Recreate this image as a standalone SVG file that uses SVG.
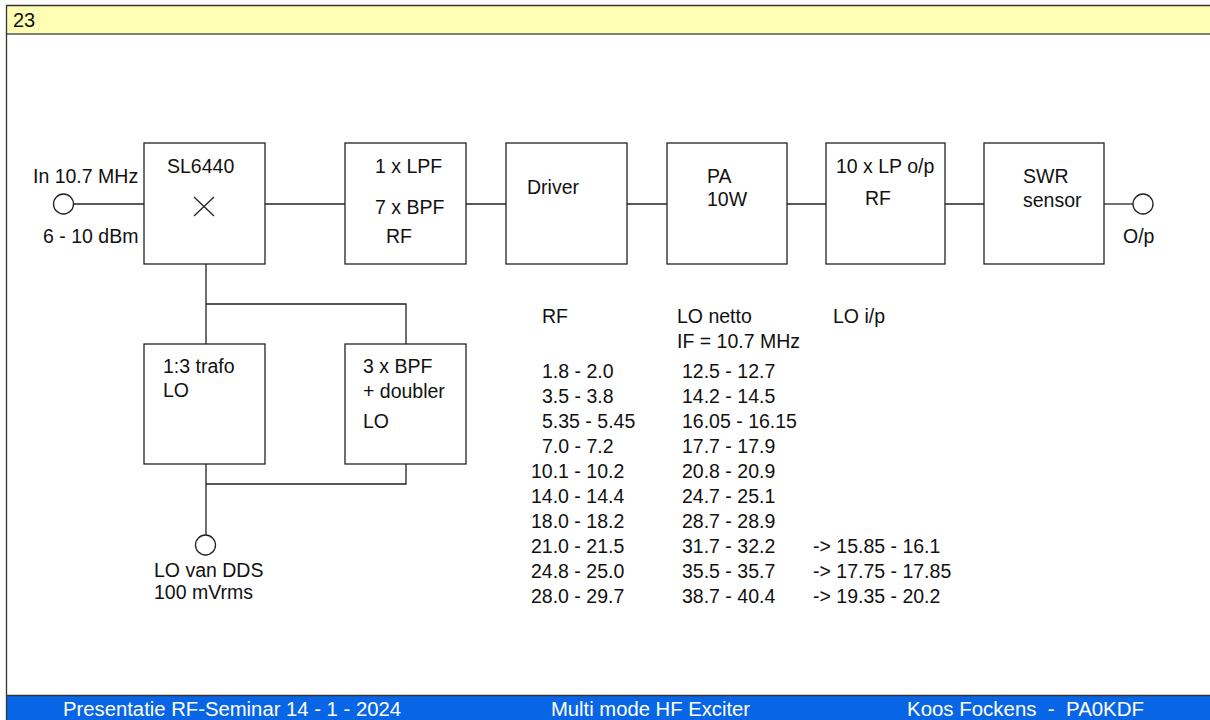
<svg xmlns="http://www.w3.org/2000/svg" width="1210" height="720" viewBox="0 0 1210 720">
<style>
.box{fill:#fff;stroke:#222;stroke-width:1.3}
.ln{fill:none;stroke:#222;stroke-width:1.3}
.port{fill:#fff;stroke:#222;stroke-width:1.3}
text{font-family:"Liberation Sans",Arial,Helvetica,sans-serif;font-size:19.5px;fill:#111}
.ft{font-size:20px;fill:#fff;white-space:pre}
</style>
<rect x="0" y="0" width="1210" height="720" fill="#fff"/>
<!-- header -->
<g id="header">
<rect x="6" y="5" width="1204" height="29" fill="#ffffb4"/>
<line x1="6" y1="5.5" x2="1210" y2="5.5" stroke="#333" stroke-width="1.3"/>
<line x1="6" y1="34" x2="1210" y2="34" stroke="#555" stroke-width="1.5"/>
<text x="13" y="27" style="font-size:20px">23</text>
</g>
<!-- footer -->
<g id="footer">
<rect x="6" y="696" width="1204" height="24" fill="#0866e6"/>
<line x1="6" y1="695.5" x2="1210" y2="695.5" stroke="#333" stroke-width="1.3"/>
<text class="ft" x="63" y="716" textLength="338" lengthAdjust="spacingAndGlyphs">Presentatie RF-Seminar 14 - 1 - 2024</text>
<text class="ft" x="551" y="716" textLength="199" lengthAdjust="spacingAndGlyphs">Multi mode HF Exciter</text>
<text class="ft" x="907" y="716" textLength="237" lengthAdjust="spacingAndGlyphs" xml:space="preserve">Koos Fockens  -  PA0KDF</text>
</g>
<line x1="6.5" y1="5" x2="6.5" y2="720" stroke="#333" stroke-width="1.3"/>
<!-- connectors -->
<g id="connectors">
<line class="ln" x1="74" y1="204" x2="144" y2="204"/>
<line class="ln" x1="265" y1="204" x2="345" y2="204"/>
<line class="ln" x1="466" y1="204" x2="506" y2="204"/>
<line class="ln" x1="627" y1="204" x2="667" y2="204"/>
<line class="ln" x1="787" y1="204" x2="826" y2="204"/>
<line class="ln" x1="945" y1="204" x2="984" y2="204"/>
<line class="ln" x1="1104" y1="204" x2="1133" y2="204"/>
<polyline class="ln" points="206,264 206,344"/>
<polyline class="ln" points="206,304 406,304 406,344"/>
<polyline class="ln" points="206,464 206,535"/>
<polyline class="ln" points="206,484 406,484 406,464"/>
</g>
<!-- ports -->
<g id="port-in">
<circle class="port" cx="63.5" cy="204" r="10"/>
<text x="33" y="183">In 10.7 MHz</text>
<text x="43" y="243">6 - 10 dBm</text>
</g>
<g id="port-out">
<circle class="port" cx="1143" cy="204" r="10"/>
<text x="1123" y="243">O/p</text>
</g>
<g id="port-lo">
<circle class="port" cx="205.5" cy="545" r="10"/>
<text x="154" y="577">LO van DDS</text>
<text x="154" y="599">100 mVrms</text>
</g>
<!-- nodes -->
<g id="mixer">
<rect class="box" x="144" y="143" width="121" height="121"/>
<text x="167" y="173">SL6440</text>
<path class="ln" d="M194 197 L214 216 M194 216 L214 197"/>
</g>
<g id="filter-rf">
<rect class="box" x="345" y="143" width="121" height="121"/>
<text x="375" y="173">1 x LPF</text>
<text x="375" y="214">7 x BPF</text>
<text x="386" y="243">RF</text>
</g>
<g id="driver">
<rect class="box" x="506" y="143" width="121" height="121"/>
<text x="527" y="194">Driver</text>
</g>
<g id="pa">
<rect class="box" x="667" y="143" width="120" height="121"/>
<text x="707" y="183">PA</text>
<text x="707" y="206">10W</text>
</g>
<g id="lp-out">
<rect class="box" x="826" y="143" width="119" height="121"/>
<text x="836" y="173">10 x LP o/p</text>
<text x="865" y="205">RF</text>
</g>
<g id="swr">
<rect class="box" x="984" y="143" width="120" height="121"/>
<text x="1023" y="183">SWR</text>
<text x="1023" y="207">sensor</text>
</g>
<g id="trafo">
<rect class="box" x="144" y="344" width="121" height="120"/>
<text x="163" y="373">1:3 trafo</text>
<text x="163" y="397">LO</text>
</g>
<g id="doubler">
<rect class="box" x="345" y="344" width="121" height="120"/>
<text x="363" y="373">3 x BPF</text>
<text x="363" y="398">+ doubler</text>
<text x="363" y="428">LO</text>
</g>
<!-- table -->
<g id="table">
<text x="542" y="323">RF</text>
<text x="677" y="323">LO netto</text>
<text x="833" y="323">LO i/p</text>
<text x="677" y="348">IF = 10.7 MHz</text>
<text x="542" y="378">1.8 - 2.0</text><text x="682" y="378">12.5 - 12.7</text>
<text x="542" y="403">3.5 - 3.8</text><text x="682" y="403">14.2 - 14.5</text>
<text x="542" y="428">5.35 - 5.45</text><text x="682" y="428">16.05 - 16.15</text>
<text x="542" y="453">7.0 - 7.2</text><text x="682" y="453">17.7 - 17.9</text>
<text x="531" y="478">10.1 - 10.2</text><text x="682" y="478">20.8 - 20.9</text>
<text x="531" y="503">14.0 - 14.4</text><text x="682" y="503">24.7 - 25.1</text>
<text x="531" y="528">18.0 - 18.2</text><text x="682" y="528">28.7 - 28.9</text>
<text x="531" y="553">21.0 - 21.5</text><text x="682" y="553">31.7 - 32.2</text><text x="813" y="553">-&gt; 15.85 - 16.1</text>
<text x="531" y="578">24.8 - 25.0</text><text x="682" y="578">35.5 - 35.7</text><text x="813" y="578">-&gt; 17.75 - 17.85</text>
<text x="531" y="603">28.0 - 29.7</text><text x="682" y="603">38.7 - 40.4</text><text x="813" y="603">-&gt; 19.35 - 20.2</text>
</g>
</svg>
